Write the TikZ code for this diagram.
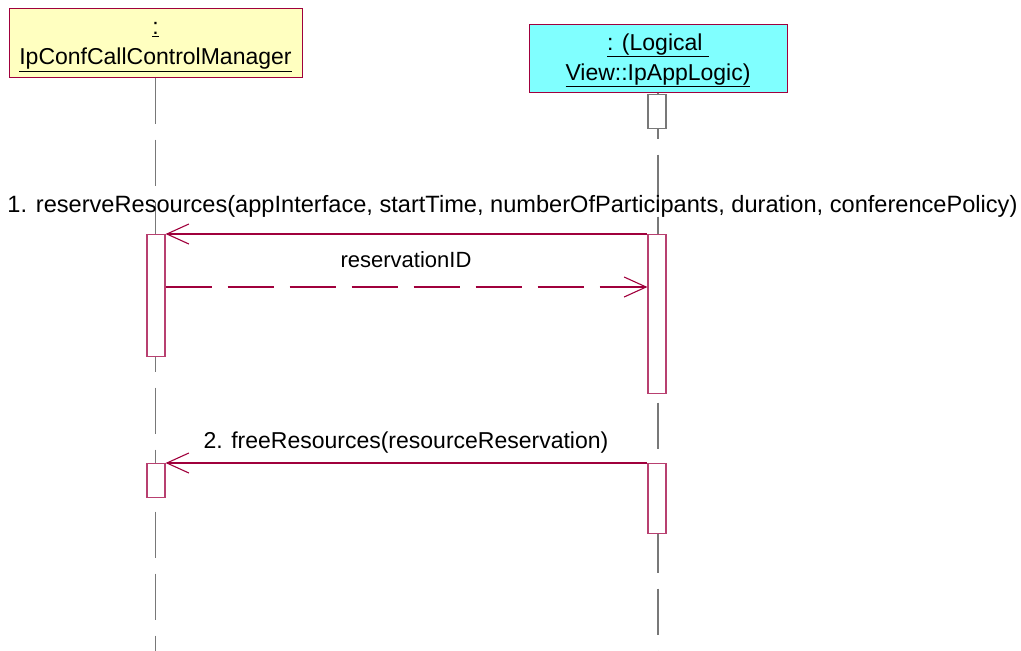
\documentclass[tikz,border=0pt]{standalone}
\usepackage{fontspec}
\setmainfont{Liberation Sans}
\usetikzlibrary{arrows.meta}
\definecolor{umlred}{HTML}{A0003C}
\definecolor{actred}{HTML}{B84070}
\definecolor{lifegray}{HTML}{787878}
\definecolor{headyellow}{HTML}{FFFFC0}
\definecolor{headcyan}{HTML}{80FFFF}
\begin{document}
\begin{tikzpicture}[x=1pt, y=-1pt, >={Straight Barb[length=22pt,width=20pt,line width=1.1pt]},
    every node/.style={font=\fontsize{23}{30}\selectfont},
    head/.style={draw=umlred, line width=1pt, align=center, inner sep=0pt},
    life/.style={draw=lifegray, line width=1.4pt, dash pattern=on 46pt off 16pt},
    actbox/.style={draw=actred, fill=white, line width=1.1pt, minimum width=18pt, inner sep=0pt, anchor=north},
    msg/.style={draw=umlred, line width=1.1pt, ->}]
    % 画布
    \useasboundingbox (0,0) rectangle (1021,651);
    \coordinate (bot) at (0,651);

    % 对象
    \node[head, fill=headyellow, minimum width=293pt, minimum height=69pt] (mgr) at (155.5,42.5)
        {\rule{0pt}{21pt}\underline{:}\\\underline{IpConfCallControlManager}};
    \node[head, fill=headcyan, minimum width=258pt, minimum height=68pt] (app) at (658,58)
        {\rule{0pt}{21pt}\underline{: (Logical~}\\\underline{View::IpAppLogic)}};

    % 生命线
    \draw[life] (mgr.south) -- (mgr.south |- bot);
    \draw[life] (app.south) -- (app.south |- bot);

    % 激活框
    \node[actbox, draw=lifegray, minimum height=34pt] (app0) at (657,94) {};
    \node[actbox, minimum height=122pt] (mgrA) at (156,234) {};
    \node[actbox, minimum height=159pt] (appA) at (657,234) {};
    \node[actbox, minimum height=34pt] (mgrB) at (156,463) {};
    \node[actbox, minimum height=70pt] (appB) at (657,463) {};

    % 消息 1 与返回
    \coordinate (ret) at (0,287);
    \draw[msg] (appA.north west) -- (mgrA.north east);
    \node[anchor=base, font=\fontsize{23.6}{30}\selectfont] (lblA) at (512.5,212) {1. reserveResources(appInterface, startTime, numberOfParticipants, duration, conferencePolicy)};
    \draw[msg, dash pattern=on 46pt off 16pt] (mgrA.east |- ret) -- (appA.west |- ret);
    \node[anchor=base, font=\fontsize{22}{30}\selectfont] (lblR) at (406,267) {reservationID};

    % 消息 2
    \draw[msg] (appB.north west) -- (mgrB.north east);
    \node[anchor=base] (lblB) at (406,448) {2. freeResources(resourceReservation)};
\end{tikzpicture}
\end{document}
